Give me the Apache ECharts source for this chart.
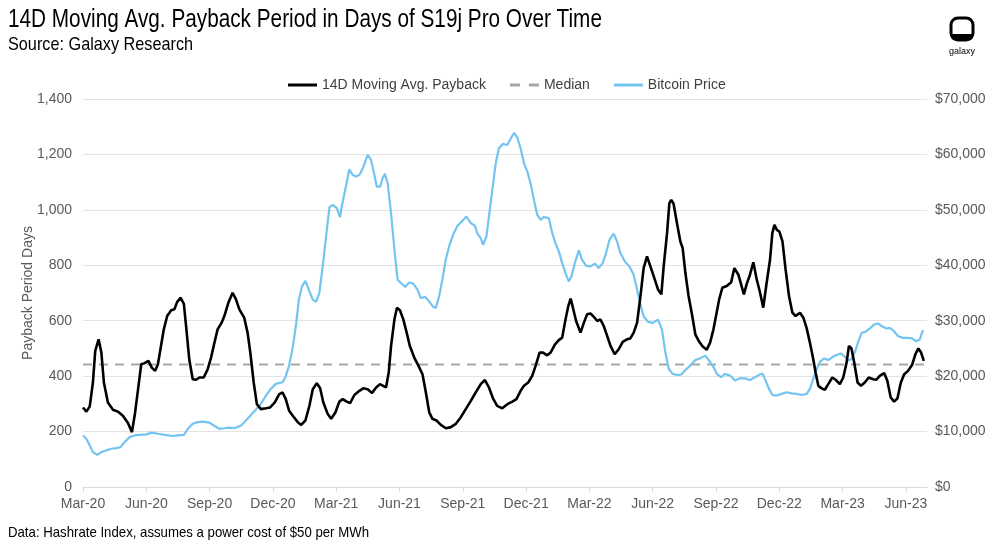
<!DOCTYPE html>
<html>
<head>
<meta charset="utf-8">
<script src="https://cdn.jsdelivr.net/npm/echarts@6/dist/echarts.min.js"></script>
<style>
html,body{margin:0;padding:0;background:#fff;}
#chart{width:1000px;height:547px;}
</style>
</head>
<body>
<div id="chart"></div>
<script>
// x values: months elapsed since 1 Mar 2020
const tickLabels = ['Mar-20','Jun-20','Sep-20','Dec-20','Mar-21','Jun-21','Sep-21','Dec-21','Mar-22','Jun-22','Sep-22','Dec-22','Mar-23','Jun-23'];

const paybackMonths = [0.00,0.16,0.32,0.47,0.58,0.74,0.87,0.99,1.18,1.42,1.65,1.89,2.13,2.32,2.47,2.63,2.76,2.92,3.10,3.26,3.42,3.55,3.67,3.83,3.99,4.18,4.33,4.46,4.62,4.78,4.89,5.04,5.20,5.36,5.52,5.72,5.91,6.07,6.23,6.38,6.57,6.70,6.89,7.09,7.25,7.41,7.64,7.80,7.93,8.09,8.24,8.43,8.67,8.87,9.09,9.30,9.46,9.61,9.77,9.94,10.18,10.34,10.54,10.73,10.89,11.08,11.24,11.39,11.60,11.76,11.96,12.15,12.31,12.50,12.66,12.86,13.10,13.28,13.49,13.70,13.89,14.07,14.23,14.36,14.49,14.60,14.76,14.88,15.02,15.18,15.34,15.49,15.70,15.90,16.09,16.25,16.41,16.56,16.75,16.96,17.20,17.43,17.67,17.90,18.14,18.38,18.61,18.85,19.05,19.24,19.43,19.63,19.87,20.11,20.35,20.54,20.74,20.90,21.10,21.29,21.45,21.64,21.80,22.00,22.16,22.37,22.55,22.71,22.87,23.00,23.11,23.22,23.37,23.58,23.74,23.89,24.05,24.21,24.37,24.52,24.68,24.84,25.00,25.20,25.39,25.58,25.78,25.94,26.10,26.26,26.42,26.57,26.73,26.89,27.05,27.25,27.41,27.52,27.68,27.79,27.88,27.99,28.15,28.31,28.42,28.55,28.70,28.86,29.02,29.18,29.37,29.56,29.72,29.88,30.03,30.15,30.30,30.51,30.72,30.87,31.06,31.19,31.32,31.46,31.61,31.77,31.93,32.09,32.24,32.40,32.56,32.67,32.77,32.88,33.00,33.15,33.30,33.46,33.62,33.77,33.98,34.14,34.29,34.45,34.61,34.72,34.85,35.01,35.16,35.32,35.51,35.67,35.87,36.03,36.19,36.30,36.42,36.55,36.71,36.87,37.05,37.24,37.45,37.60,37.76,37.97,38.12,38.28,38.44,38.60,38.76,38.92,39.10,39.29,39.45,39.59,39.72,39.85];
const paybackDays = [287,272,291,377,491,533,485,377,305,279,272,257,231,198,269,365,443,447,455,431,419,443,497,569,617,638,641,667,683,661,577,458,389,387,395,395,425,467,521,569,593,617,665,701,677,641,611,557,485,377,299,281,284,287,305,335,341,317,275,257,234,224,240,293,353,374,356,305,263,246,269,308,317,308,303,332,347,356,353,339,359,371,365,359,413,509,605,647,638,605,557,509,467,437,407,341,269,246,240,224,212,216,228,251,281,311,341,371,386,359,320,293,284,299,308,317,347,365,377,401,437,485,485,475,485,515,530,539,605,653,680,647,599,557,593,623,626,614,599,605,581,545,509,479,497,524,533,536,557,593,689,790,832,796,760,713,695,796,916,1024,1036,1022,952,886,862,772,689,623,551,527,507,495,521,569,629,677,719,725,739,790,766,731,695,734,766,811,749,701,647,737,820,916,946,928,922,886,784,689,629,617,629,611,575,521,461,413,365,356,351,371,395,387,371,395,449,509,500,449,377,365,377,395,389,387,401,411,383,323,308,320,377,407,419,440,479,500,485,455];

const btcMonths = [0.00,0.16,0.32,0.47,0.68,0.87,1.10,1.34,1.58,1.78,1.97,2.21,2.44,2.68,2.99,3.26,3.55,3.86,4.25,4.49,4.78,4.97,5.20,5.44,5.67,5.99,6.23,6.46,6.70,6.93,7.17,7.49,7.72,7.96,8.20,8.43,8.67,8.90,9.14,9.46,9.61,9.77,9.94,10.10,10.23,10.38,10.54,10.70,10.89,11.05,11.20,11.36,11.52,11.68,11.84,12.03,12.18,12.31,12.47,12.62,12.78,12.94,13.10,13.26,13.49,13.65,13.81,13.92,14.08,14.20,14.31,14.44,14.60,14.76,14.91,15.07,15.27,15.46,15.65,15.85,16.01,16.22,16.40,16.60,16.72,16.88,17.03,17.19,17.35,17.54,17.74,17.95,18.17,18.38,18.58,18.69,18.85,18.96,19.12,19.24,19.40,19.56,19.71,19.90,20.11,20.31,20.43,20.58,20.74,20.90,21.06,21.21,21.37,21.53,21.69,21.84,22.08,22.24,22.39,22.55,22.71,22.87,23.02,23.15,23.31,23.50,23.65,23.85,24.05,24.26,24.44,24.63,24.79,24.95,25.15,25.31,25.47,25.68,25.90,26.10,26.26,26.42,26.57,26.78,27.00,27.25,27.44,27.60,27.76,27.95,28.15,28.36,28.55,28.78,29.02,29.25,29.49,29.73,29.90,30.04,30.24,30.43,30.67,30.90,31.14,31.37,31.61,31.85,32.04,32.20,32.35,32.51,32.67,32.88,33.11,33.35,33.59,33.82,34.06,34.30,34.45,34.61,34.77,34.93,35.13,35.32,35.51,35.71,35.92,36.11,36.27,36.42,36.58,36.74,36.90,37.08,37.29,37.49,37.68,37.87,38.08,38.24,38.44,38.63,38.86,39.10,39.29,39.49,39.65,39.81];
const btcPrice = [9300,8700,7500,6300,5800,6300,6600,6900,7000,7200,8100,9000,9300,9400,9500,9800,9600,9400,9200,9300,9400,10500,11400,11700,11800,11600,11000,10500,10600,10700,10600,11100,12000,13000,14000,15000,16500,17700,18600,18900,20000,21900,25200,29400,33800,36200,37200,35600,33800,33400,35000,39800,45200,50500,50900,50300,48700,51500,54400,57300,56300,56000,56300,57500,59900,59000,56300,54200,54200,55700,56500,54800,49400,42800,37400,36800,36100,36900,36700,35600,34100,34300,33500,32500,32300,34400,37400,41000,43400,45500,47100,47900,48800,47600,47100,45700,44900,43700,45200,48800,53600,58400,61100,61900,61700,63100,63900,63100,61100,58400,56900,54800,51800,49100,48200,48700,48500,45800,44000,42500,40400,38600,37100,38000,40400,42700,41000,39900,39800,40300,39500,40400,42200,44600,45700,44300,42200,40700,39800,38300,35600,32900,30800,29800,29600,30200,28400,24300,21300,20400,20200,20300,21100,21900,22900,23200,23700,22500,21500,20400,19800,20400,20100,19200,19600,19600,19300,19800,20200,20500,19200,17700,16600,16500,16800,17100,16900,16800,16600,16800,17700,19500,21300,22600,23200,22900,23400,23800,24100,23500,22800,23100,24300,26200,27800,28000,28600,29300,29500,29000,28600,28700,28100,27200,26900,26900,26800,26300,26600,28300];

const medianDays = 442;
const medianSpan = [0, 39.85];

const titleText = '14D Moving Avg. Payback Period in Days of S19j Pro Over Time';
const subtitleText = 'Source: Galaxy Research';
const footerText = 'Data: Hashrate Index, assumes a power cost of $50 per MWh';

const zip = (xs, ys) => xs.map((x, i) => [x, ys[i]]);
const fmt = v => v.toLocaleString('en-US');

const chart = echarts.init(document.getElementById('chart'), null, {renderer: 'canvas'});
const sans = 'Liberation Sans, Arial, sans-serif';
const axisText = {color: '#595959', fontFamily: sans, fontSize: 14};

chart.setOption({
  animation: false,
  backgroundColor: '#fff',
  legend: {
    left: 283, top: 73, itemWidth: 29, itemHeight: 3, itemGap: 24,
    symbolKeepAspect: false,
    textStyle: {color: '#404040', fontFamily: sans, fontSize: 14},
    data: [
      {name: '14D Moving Avg. Payback', icon: 'rect'},
      {name: 'Median', icon: 'path://M0,0H8V1H0Z M15,0H23V1H15Z'},
      {name: 'Bitcoin Price', icon: 'rect'}
    ]
  },
  grid: {left: 83, right: 73, top: 99, bottom: 60, containLabel: false},
  xAxis: {
    type: 'value', min: 0, max: 40, interval: 3,
    axisLine: {show: true, lineStyle: {color: '#d9d9d9', width: 1}},
    axisTick: {show: true, length: 5, lineStyle: {color: '#d9d9d9'}},
    splitLine: {show: false},
    axisLabel: Object.assign({}, axisText, {margin: 10, showMaxLabel: false,
      formatter: v => (v % 3 === 0 ? (tickLabels[v / 3] || '') : '')})
  },
  yAxis: [
    {type: 'value', min: 0, max: 1400, interval: 200,
     name: 'Payback Period Days', nameLocation: 'middle', nameGap: 48, nameRotate: 90,
     nameMoveOverlap: false,
     nameTextStyle: axisText,
     axisLine: {show: false}, axisTick: {show: false},
     splitLine: {show: true, lineStyle: {color: '#e3e3e3', width: 1}},
     axisLabel: Object.assign({}, axisText, {margin: 11, formatter: v => fmt(v)})},
    {type: 'value', min: 0, max: 70000, interval: 10000, position: 'right',
     axisLine: {show: false}, axisTick: {show: false}, splitLine: {show: false},
     axisLabel: Object.assign({}, axisText, {margin: 8, formatter: v => '$' + fmt(v)})}
  ],
  series: [
    {name: '14D Moving Avg. Payback', type: 'line', yAxisIndex: 0, symbol: 'none', smooth: false, z: 4,
     lineStyle: {color: '#000', width: 2.6}, itemStyle: {color: '#000'},
     data: zip(paybackMonths, paybackDays)},
    {name: 'Median', type: 'line', yAxisIndex: 0, symbol: 'none', z: 2,
     lineStyle: {color: '#a6a6a6', width: 2, type: [9, 7]}, itemStyle: {color: '#a6a6a6'},
     data: medianSpan.map(x => [x, medianDays])},
    {name: 'Bitcoin Price', type: 'line', yAxisIndex: 1, symbol: 'none', z: 3,
     lineStyle: {color: '#74c4f1', width: 2.2}, itemStyle: {color: '#74c4f1'},
     data: zip(btcMonths, btcPrice)}
  ],
  graphic: [
    {type: 'text', x: 8, y: 20, scaleX: 0.83,
     style: {text: titleText, fill: '#000', font: '25px ' + sans, verticalAlign: 'middle'}},
    {type: 'text', x: 8, y: 45, scaleX: 0.855,
     style: {text: subtitleText, fill: '#000', font: '19px ' + sans, verticalAlign: 'middle'}},
    {type: 'text', x: 8, y: 533, scaleX: 0.88,
     style: {text: footerText, fill: '#000', font: '15px ' + sans, verticalAlign: 'middle'}},
    {type: 'rect', shape: {x: 951, y: 18, width: 22, height: 22, r: 7},
     style: {fill: 'none', stroke: '#000', lineWidth: 3}},
    {type: 'rect', shape: {x: 951, y: 34, width: 22, height: 6, r: [0, 0, 4, 4]},
     style: {fill: '#000'}},
    {type: 'text', style: {text: 'galaxy', x: 962, y: 47, align: 'center', fill: '#000',
      font: '9px ' + sans}}
  ]
});
</script>
</body>
</html>
